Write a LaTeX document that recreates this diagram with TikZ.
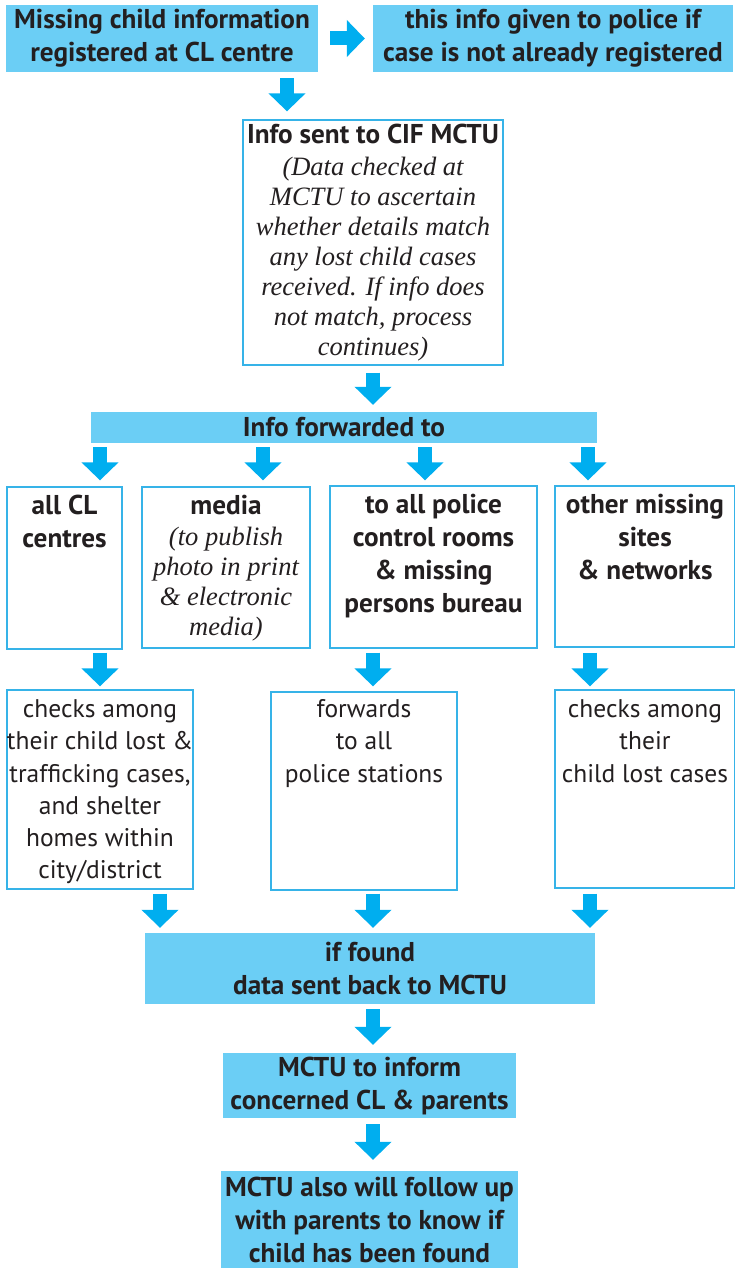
\documentclass[tikz,border=0pt]{standalone}
\usepackage{fontspec}
\usetikzlibrary{arrows.meta,calc}
\newfontfamily\dinb{PT Sans}[BoldFont={PT Sans Bold}]
\newfontfamily\dinr{PT Sans}
\newfontfamily\serit{Liberation Serif}
\definecolor{boxfill}{HTML}{6BCEF5}
\definecolor{arrowblue}{HTML}{00AEEF}
\definecolor{edgeblue}{HTML}{36B3E8}
\definecolor{ink}{HTML}{231F20}
\tikzset{
  fillbox/.style={fill=boxfill, draw=none, inner sep=0pt, text=ink, align=center,
    font=\dinb\bfseries\fontsize{27.2}{33}\selectfont},
  linebox/.style={draw=edgeblue, line width=1.3pt, fill=white, inner sep=0pt},
  boldtxt/.style={inner sep=0pt, anchor=north, align=center, text=ink,
    font=\dinb\bfseries\fontsize{27.2}{33}\selectfont},
  regtxt/.style={inner sep=0pt, anchor=north, align=center, text=ink,
    font=\dinr\fontsize{25.5}{32.3}\selectfont},
  ittxt/.style={inner sep=0pt, anchor=north, align=center, text=ink,
    font=\serit\itshape\fontsize{26.5}{29.9}\selectfont},
  barrow/.style={draw=arrowblue, line width=14pt, -{Triangle[width=36pt,length=18pt]}},
}
\begin{document}
\begin{tikzpicture}[x=1pt,y=-1pt]
\useasboundingbox (0,0) rectangle (734,1268);
% top row
\node[fillbox, minimum width=312, minimum height=67] (b1) at (162,38.5)
  {Missing child information\\registered at CL centre};
\node[fillbox, minimum width=360, minimum height=67] (b2) at (553,38.5)
  {this info given to police if\\case is not already registered};
% CIF box
\node[linebox, minimum width=260, minimum height=245] (b3) at (373,242.5) {};
\node[boldtxt] (b3t) at ($(b3.north)+(0,5)$) {Info sent to CIF MCTU};
\node[ittxt] (b3i) at ($(b3.north)+(0,38)$) {(Data checked at\\MCTU to ascertain\\whether details match\\any lost child cases\\received. If info does\\not match, process\\continues)};
% forward bar
\node[fillbox, minimum width=506, minimum height=31] (fwd) at (344,427.5) {Info forwarded to};
% row 1
\node[linebox, minimum width=115, minimum height=162] (A) at (64.5,568) {};
\node[linebox, minimum width=168, minimum height=161] (B) at (226,567.5) {};
\node[linebox, minimum width=207, minimum height=162] (C) at (433.5,567) {};
\node[linebox, minimum width=180, minimum height=161] (D) at (645,566.5) {};
\node[boldtxt] (At) at ($(A.north)+(0,9)$) {all CL\\centres};
\node[boldtxt] (Bt) at ($(B.north)+(0,9)$) {media};
\node[ittxt] (Bi) at ($(B.north)+(0,40.5)$) {(to publish\\photo in print\\\& electronic\\media)};
\node[boldtxt] (Ct) at ($(C.north)+(0,9)$) {to all police\\control rooms\\\& missing\\persons bureau};
\node[boldtxt] (Dt) at ($(D.north)+(0,9)$) {other missing\\sites\\\& networks};
% row 2
\node[linebox, minimum width=186, minimum height=199] (E) at (100,789.5) {};
\node[linebox, minimum width=186, minimum height=198] (F) at (364,791) {};
\node[linebox, minimum width=180, minimum height=198] (G) at (645,789) {};
\node[regtxt] (Et) at ($(E.north)+(0,10)$) {checks among\\their child lost \&\\trafficking cases,\\and shelter\\homes within\\city/district};
\node[regtxt] (Ft) at ($(F.north)+(0,8)$) {forwards\\to all\\police stations};
\node[regtxt] (Gt) at ($(G.north)+(0,10)$) {checks among\\their\\child lost cases};
% lower boxes
\node[fillbox, minimum width=450, minimum height=71] (found) at (370,968.5) {if found\\data sent back to MCTU};
\node[fillbox, minimum width=293, minimum height=65] (inform) at (369.5,1085.5) {MCTU to inform\\concerned CL \& parents};
\node[fillbox, minimum width=297, minimum height=97] (follow) at (369.5,1219.5) {MCTU also will follow up\\with parents to know if\\child has been found};
% arrows
\draw[barrow] ($(b1.east)+(12,0)$) -- ($(b2.west)+(-8,0)$);
\draw[barrow] ($(287,0 |- b1.south)+(0,6)$) -- ($(287,0 |- b3.north)+(0,-8)$);
\draw[barrow] ($(b3.south)+(0,7)$) -- ($(373,0 |- fwd.north)+(0,-7)$);
\draw[barrow] ($(100,0 |- fwd.south)+(0,4)$) -- ($(100,0 |- A.north)+(0,-6)$);
\draw[barrow] ($(263,0 |- fwd.south)+(0,4)$) -- ($(263,0 |- B.north)+(0,-6)$);
\draw[barrow] ($(425,0 |- fwd.south)+(0,4)$) -- ($(425,0 |- C.north)+(0,-5)$);
\draw[barrow] ($(588,0 |- fwd.south)+(0,4)$) -- ($(588,0 |- D.north)+(0,-5)$);
\draw[barrow] ($(100,0 |- A.south)+(0,3)$) -- ($(100,0 |- E.north)+(0,-3)$);
\draw[barrow] ($(373,0 |- C.south)+(0,4)$) -- ($(373,0 |- F.north)+(0,-5)$);
\draw[barrow] ($(590,0 |- D.south)+(0,5)$) -- ($(590,0 |- G.north)+(0,-3)$);
\draw[barrow] ($(160,0 |- E.south)+(0,4)$) -- ($(160,0 |- found.north)+(0,-5)$);
\draw[barrow] ($(373,0 |- F.south)+(0,3)$) -- ($(373,0 |- found.north)+(0,-5)$);
\draw[barrow] ($(590,0 |- G.south)+(0,5)$) -- ($(590,0 |- found.north)+(0,-5)$);
\draw[barrow] ($(373,0 |- found.south)+(0,5)$) -- ($(373,0 |- inform.north)+(0,-8)$);
\draw[barrow] ($(373,0 |- inform.south)+(0,6)$) -- ($(373,0 |- follow.north)+(0,-11)$);
\end{tikzpicture}
\end{document}
